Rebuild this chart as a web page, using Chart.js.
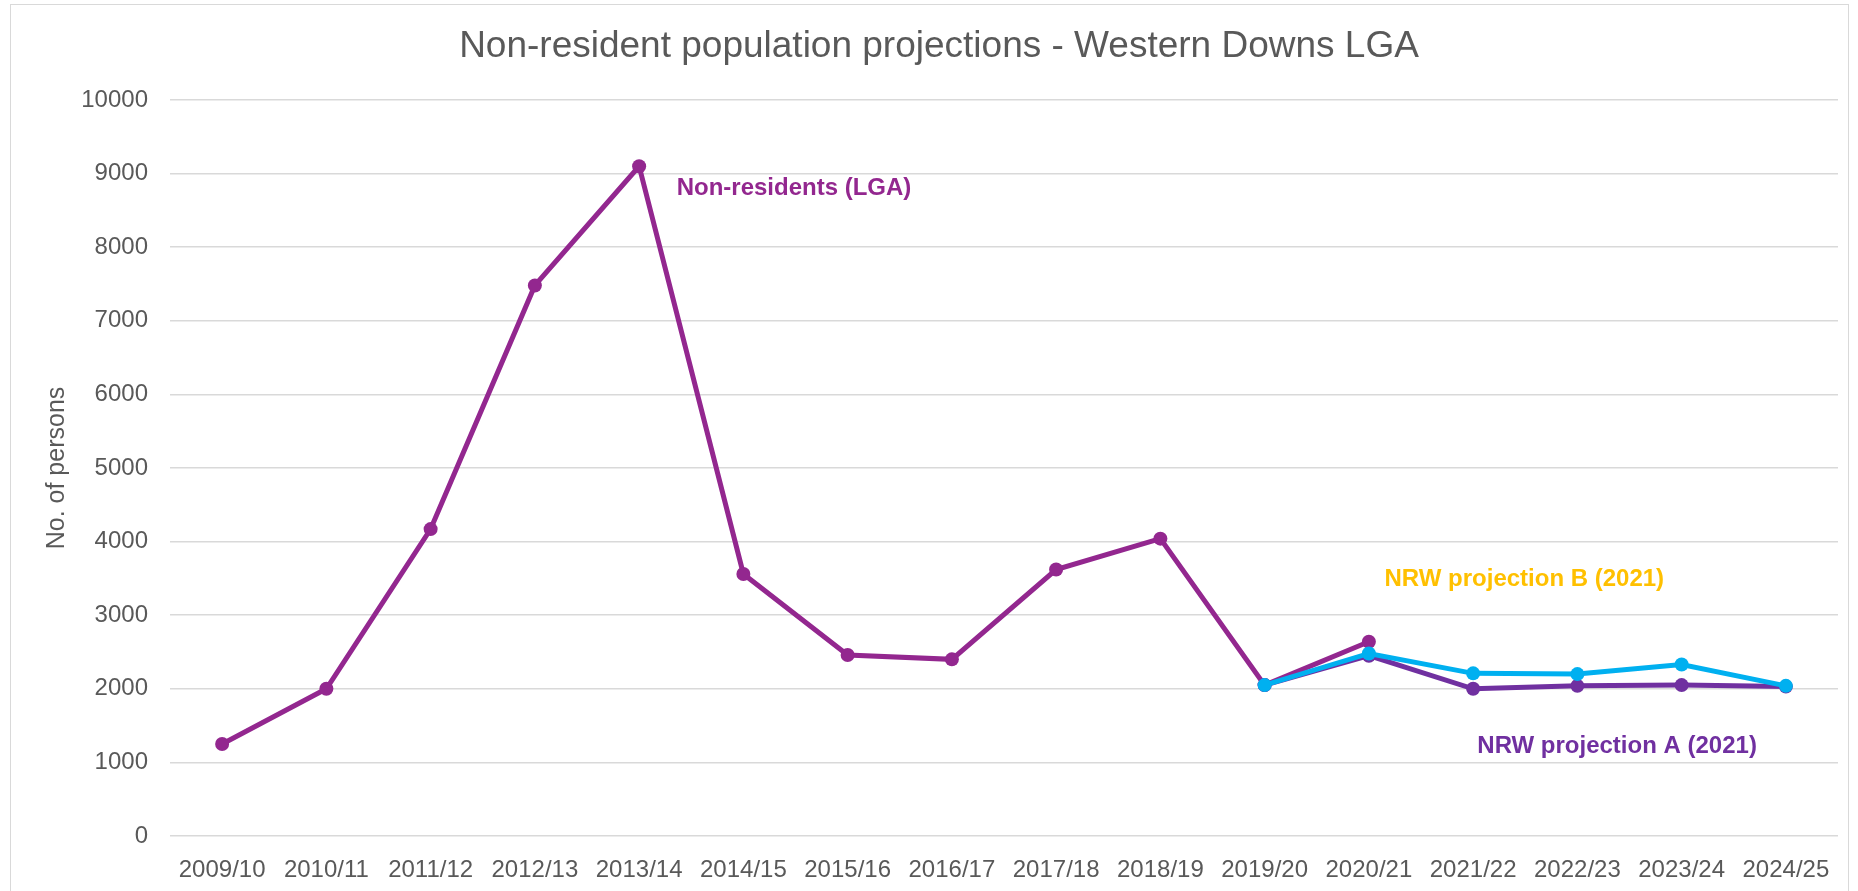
<!DOCTYPE html>
<html>
<head>
<meta charset="utf-8">
<script src="https://cdn.jsdelivr.net/npm/chart.js@4"></script>
<style>
    html, body { margin: 0; padding: 0; background: #FFFFFF; }
    #frame { position: absolute; left: 10px; top: 4px; width: 1837px; height: 890px; border: 1px solid #D9D9D9; border-bottom: none; }
    #chart { position: absolute; left: 0; top: 0; }
</style>
</head>
<body>
<div id="frame"></div>
<canvas id="chart" width="1858" height="891"></canvas>
<script>
const years = ['2009/10', '2010/11', '2011/12', '2012/13', '2013/14', '2014/15', '2015/16', '2016/17',
    '2017/18', '2018/19', '2019/20', '2020/21', '2021/22', '2022/23', '2023/24', '2024/25'];
const nonResidents = [1250, 2000, 4170, 7480, 9100, 3560, 2460, 2400, 3620, 4040, 2050, 2640,
    null, null, null, null];
const projectionA = [null, null, null, null, null, null, null, null, null, null,
    2050, 2450, 2000, 2040, 2050, 2030];
const projectionB = [null, null, null, null, null, null, null, null, null, null,
    2050, 2480, 2210, 2200, 2330, 2040];
const yTicks = [0, 1000, 2000, 3000, 4000, 5000, 6000, 7000, 8000, 9000, 10000];

const titleText = 'Non-resident population projections - Western Downs LGA';
const fontFamily = "'Liberation Sans', Arial, sans-serif";
const textGrey = '#595959';

// series labels drawn inside the plot, placed by category index / value
const seriesLabels = [
    {text: 'Non-residents (LGA)', at: 4.36, value: 8800, color: '#93278F'},
    {text: 'NRW projection B (2021)', at: 11.15, value: 3480, color: '#FFC000'},
    {text: 'NRW projection A (2021)', at: 12.04, value: 1220, color: '#7030A0'}
];

function xAt(scale, f) {
    const i = Math.floor(f);
    const a = scale.getPixelForValue(i);
    const b = scale.getPixelForValue(i + 1);
    return a + (b - a) * (f - i);
}

const textPlugin = {
    id: 'textPlugin',
    afterDraw(chart) {
        const ctx = chart.ctx;
        ctx.save();
        ctx.textBaseline = 'middle';
        ctx.fillStyle = textGrey;
        ctx.textAlign = 'center';
        ctx.font = '37px ' + fontFamily;
        ctx.fillText(titleText, chart.width / 2 + 10, 47);
        ctx.textAlign = 'left';
        ctx.font = 'bold 24px ' + fontFamily;
        for(const label of seriesLabels) {
            ctx.fillStyle = label.color;
            ctx.fillText(label.text, xAt(chart.scales.x, label.at), chart.scales.y.getPixelForValue(label.value));
        }
        ctx.restore();
    }
};

const lineSettings = {
    borderWidth: 5,
    pointRadius: 7,
    pointHoverRadius: 7,
    pointBorderWidth: 0,
    tension: 0,
    spanGaps: false
};

new Chart(document.getElementById('chart'), {
    type: 'line',
    data: {
        labels: years,
        datasets: [
            Object.assign({}, lineSettings, {
                label: 'Non-residents (LGA)', data: nonResidents, order: 2,
                borderColor: '#93278F', backgroundColor: '#93278F', pointBackgroundColor: '#93278F'
            }),
            Object.assign({}, lineSettings, {
                label: 'NRW projection A (2021)', data: projectionA, order: 1,
                borderColor: '#7030A0', backgroundColor: '#7030A0', pointBackgroundColor: '#7030A0'
            }),
            Object.assign({}, lineSettings, {
                label: 'NRW projection B (2021)', data: projectionB, order: 0,
                borderColor: '#00B0F0', backgroundColor: '#00B0F0', pointBackgroundColor: '#00B0F0'
            })
        ]
    },
    options: {
        responsive: false,
        animation: false,
        devicePixelRatio: 1,
        layout: {padding: {left: 20, right: 20, top: 100, bottom: 0}},
        plugins: {
            legend: {display: false},
            title: {display: false},
            tooltip: {enabled: false}
        },
        scales: {
            x: {
                offset: true,
                grid: {display: false},
                border: {display: false},
                ticks: {
                    color: textGrey,
                    font: {family: fontFamily, size: 24},
                    padding: 12,
                    autoSkip: false,
                    maxRotation: 0,
                    minRotation: 0
                },
                afterFit(scale) { scale.height = 55; }
            },
            y: {
                min: 0,
                max: 10000,
                afterBuildTicks(scale) { scale.ticks = yTicks.map(v => ({value: v})); },
                grid: {color: '#D9D9D9', lineWidth: 1.5, drawTicks: false},
                border: {display: false},
                ticks: {
                    color: textGrey,
                    font: {family: fontFamily, size: 24},
                    padding: 22,
                    callback: v => String(v)
                },
                title: {
                    display: true,
                    text: 'No. of persons',
                    color: textGrey,
                    font: {family: fontFamily, size: 25},
                    padding: {top: 22, bottom: 0}
                },
                afterFit(scale) { scale.width = 150; }
            }
        }
    },
    plugins: [textPlugin]
});
</script>
</body>
</html>
